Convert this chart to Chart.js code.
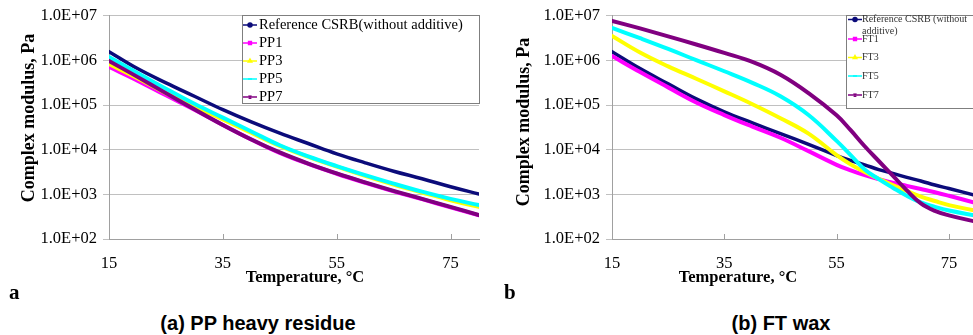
<!DOCTYPE html>
<html>
<head>
<meta charset="utf-8">
<script src="https://cdn.jsdelivr.net/npm/chart.js@4.4.1/dist/chart.umd.min.js"></script>
<style>
  html, body { margin: 0; padding: 0; background: #fff; }
  body { position: relative; width: 973px; height: 335px; overflow: hidden; }
  canvas { position: absolute; top: 0; }
  #ppChart { left: 0; }
  #ftChart { left: 490px; }
  .txt { position: absolute; white-space: nowrap; color: #000; }
  .serif { font-family: 'Liberation Serif', 'Times New Roman', serif; font-weight: bold; }
  .ytitle { transform: translate(-50%, -50%) rotate(-90deg); }
  .xtitle { transform: translate(-50%, -50%); }
  .caption { font-family: 'Liberation Sans', Arial, sans-serif; font-weight: bold; font-size: 20px; transform: translate(-50%, -50%); }
  .letter { font-size: 21px; }
</style>
</head>
<body>
<canvas id="ppChart" width="490" height="290"></canvas>
<canvas id="ftChart" width="490" height="290"></canvas>

<div class="txt serif ytitle" style="left:28px; top:118px; font-size:18px;">Complex modulus, Pa</div>
<div class="txt serif xtitle" style="left:305px; top:277px; font-size:16.5px;">Temperature, °C</div>
<div class="txt serif ytitle" style="left:523px; top:122px; font-size:18px;">Complex modulus, Pa</div>
<div class="txt serif xtitle" style="left:738px; top:277px; font-size:16.5px;">Temperature, °C</div>
<div class="txt serif letter" style="left:9px; top:280px;">a</div>
<div class="txt serif letter" style="left:504px; top:280px;">b</div>
<div class="txt caption" style="left:258px; top:323px;">(a) PP heavy residue</div>
<div class="txt caption" style="left:781px; top:323px;">(b) FT wax</div>

<script>
// axes
const xTicks = [15, 35, 55, 75];
const yTicks = [1e2, 1e3, 1e4, 1e5, 1e6, 1e7];
const yTickLabels = ['1.0E+02', '1.0E+03', '1.0E+04', '1.0E+05', '1.0E+06', '1.0E+07'];

// (a) PP heavy residue, complex modulus in Pa
const ppTemps = [15, 20, 25, 30, 35, 40, 45, 50, 55, 60, 65, 70, 75, 80];
const ppNames = ['Reference CSRB(without additive)', 'PP1', 'PP3', 'PP5', 'PP7'];
const ppRef = [1.58e6, 6.6e5, 3.16e5, 1.58e5, 7.9e4, 4.2e4, 2.35e4, 1.38e4, 8.1e3, 5.1e3, 3.3e3, 2.24e3, 1.48e3, 1.02e3];
const pp1 = [7.2e5, 3.55e5, 1.66e5, 7.9e4, 3.6e4, 1.7e4, 8.5e3, 4.8e3, 2.9e3, 1.82e3, 1.17e3, 780, 510, 340];
const pp3 = [8.3e5, 4.0e5, 1.86e5, 9.3e4, 4.8e4, 2.4e4, 1.22e4, 6.9e3, 4.2e3, 2.6e3, 1.66e3, 1.1e3, 740, 525];
const pp5 = [1.2e6, 5.25e5, 2.34e5, 1.07e5, 5.25e4, 2.57e4, 1.26e4, 7.1e3, 4.3e3, 2.7e3, 1.74e3, 1.15e3, 795, 575];
const pp7 = [9.8e5, 4.3e5, 1.86e5, 8.1e4, 3.6e4, 1.7e4, 8.7e3, 4.9e3, 2.95e3, 1.86e3, 1.2e3, 795, 525, 345];

// (b) FT wax, complex modulus in Pa
const ftTemps = [15, 20, 25, 30, 35, 40, 45, 50, 55, 57.5, 60, 62.5, 65, 67.5, 70, 72.5, 75, 80];
const ftNames = ['Reference CSRB (without additive)', 'FT1', 'FT3', 'FT5', 'FT7'];
const ftRef = [1.58e6, 6.6e5, 3.0e5, 1.38e5, 7.1e4, 4.0e4, 2.3e4, 1.32e4, 7.4e3, 5.75e3, 4.6e3, 3.6e3, 2.95e3, 2.4e3, 2.0e3, 1.62e3, 1.35e3, 930];
const ft1 = [1.26e6, 5.5e5, 2.5e5, 1.15e5, 6.0e4, 3.3e4, 1.86e4, 9.3e3, 4.6e3, 3.45e3, 2.7e3, 2.2e3, 1.82e3, 1.55e3, 1.32e3, 1.12e3, 930, 630];
const ft3 = [3.55e6, 1.51e6, 7.4e5, 3.9e5, 2.04e5, 1.05e5, 5.1e4, 2.3e4, 7.6e3, 4.7e3, 3.16e3, 2.24e3, 1.62e3, 1.2e3, 890, 710, 575, 425];
const ft5 = [5.4e6, 3.16e6, 1.82e6, 1.02e6, 5.75e5, 3.16e5, 1.58e5, 6.0e4, 1.58e4, 7.6e3, 3.63e3, 2.19e3, 1.41e3, 930, 660, 525, 435, 330];
const ft7 = [7.76e6, 5.25e6, 3.47e6, 2.29e6, 1.48e6, 9.3e5, 4.8e5, 1.86e5, 5.9e4, 2.75e4, 1.2e4, 5.6e3, 2.63e3, 1.23e3, 630, 427, 339, 240];

const colors = ['#0b0b7a', '#ff00ff', '#ffff00', '#00ffff', '#800080'];
const markers = ['circle', 'rect', 'triangle', 'line', 'crossRot'];
const serif = "'Liberation Serif', 'Times New Roman', serif";

// legend box drawn inside the plot, like the Excel one
const legendBox = {
  id: 'legendBox',
  afterDraw(chart, args, opts) {
    const ctx = chart.ctx;
    ctx.save();
    ctx.fillStyle = '#fff';
    ctx.fillRect(opts.x, opts.y, opts.w, opts.h);
    ctx.strokeStyle = '#7f7f7f';
    ctx.lineWidth = 1;
    ctx.strokeRect(opts.x + 0.5, opts.y + 0.5, opts.w, opts.h);
    ctx.font = opts.font;
    ctx.textBaseline = 'middle';
    chart.data.datasets.forEach((ds, i) => {
      const y = opts.rows[i];
      ctx.strokeStyle = ds.borderColor;
      ctx.fillStyle = ds.borderColor;
      ctx.lineWidth = 1.5;
      ctx.beginPath();
      ctx.moveTo(opts.sampleX, y);
      ctx.lineTo(opts.sampleX + opts.sampleW, y);
      ctx.stroke();
      Chart.helpers.drawPoint(ctx, { pointStyle: ds.pointStyle, radius: 2, rotation: 0, borderWidth: 1 }, opts.sampleX + opts.sampleW / 2, y);
      // simple word wrap
      const words = ds.label.split(' ');
      const lines = [];
      let line = '';
      words.forEach(w => {
        const test = line ? line + ' ' + w : w;
        if (opts.wrap && ctx.measureText(test).width > opts.wrap && line) {
          lines.push(line);
          line = w;
        } else {
          line = test;
        }
      });
      lines.push(line);
      ctx.fillStyle = opts.color;
      lines.forEach((l, k) => ctx.fillText(l, opts.textX, y + k * opts.lineGap));
    });
    ctx.restore();
  }
};

// small tick marks pointing into the plot on the x axis
const innerTicks = {
  id: 'innerTicks',
  afterDraw(chart) {
    const ctx = chart.ctx;
    const xs = chart.scales.x;
    const bottom = chart.chartArea.bottom;
    ctx.save();
    ctx.strokeStyle = '#a0a0a0';
    ctx.lineWidth = 1;
    xs.ticks.forEach((t, i) => {
      if (i === 0) return;
      const px = Math.round(xs.getPixelForValue(t.value)) + 0.5;
      ctx.beginPath();
      ctx.moveTo(px, bottom);
      ctx.lineTo(px, bottom - 5);
      ctx.stroke();
    });
    ctx.restore();
  }
};

const buildDatasets = (temps, names, series) => {
  return series.map((values, i) => ({
    label: names[i],
    data: values.map((v, k) => ({ x: temps[k], y: v })),
    borderColor: colors[i],
    backgroundColor: colors[i],
    borderWidth: i === 0 ? 3.5 : 4,
    pointStyle: markers[i],
    order: series.length - i
  }));
};

const buildOptions = (yWidth, padRight, legendOpts) => ({
  responsive: false,
  animation: false,
  layout: { padding: { left: 0, top: 15, right: padRight, bottom: 0 } },
  elements: {
    point: { radius: 0 },
    line: { tension: 0.4, fill: false, borderCapStyle: 'round', borderJoinStyle: 'round' }
  },
  plugins: {
    legend: { display: false },
    tooltip: { enabled: false },
    legendBox: legendOpts
  },
  scales: {
    x: {
      type: 'linear',
      min: 15,
      max: 80,
      afterBuildTicks: s => { s.ticks = xTicks.map(v => ({ value: v })); },
      afterFit: s => { s.height = 51; },
      grid: { display: false },
      border: { color: '#a0a0a0' },
      ticks: { font: { family: serif, size: 16.5 }, color: '#000', padding: 7 }
    },
    y: {
      type: 'logarithmic',
      min: 1e2,
      max: 1e7,
      afterBuildTicks: s => { s.ticks = yTicks.map(v => ({ value: v })); },
      afterFit: s => { s.width = yWidth; },
      grid: { color: '#c0c0c0', tickLength: 6 },
      border: { color: '#a0a0a0' },
      ticks: {
        font: { family: serif, size: 16.5 },
        color: '#000',
        padding: 6,
        callback: (v, i) => yTickLabels[i]
      }
    }
  }
});

new Chart(document.getElementById('ppChart'), {
  type: 'line',
  data: { datasets: buildDatasets(ppTemps, ppNames, [ppRef, pp1, pp3, pp5, pp7]) },
  options: buildOptions(109, 11, {
    x: 242, y: 15, w: 237, h: 88,
    rows: [25, 43, 61, 79, 97],
    font: "14.5px " + serif, color: '#000',
    sampleX: 243, sampleW: 14, textX: 259, wrap: 0, lineGap: 0
  }),
  plugins: [legendBox, innerTicks]
});

new Chart(document.getElementById('ftChart'), {
  type: 'line',
  data: { datasets: buildDatasets(ftTemps, ftNames, [ftRef, ft1, ft3, ft5, ft7]) },
  options: buildOptions(122, 3, {
    x: 356, y: 15, w: 140, h: 93,
    rows: [19.5, 39, 57.5, 76, 95],
    font: "10px " + serif, color: '#333',
    sampleX: 358, sampleW: 14, textX: 372, wrap: 112, lineGap: 12
  }),
  plugins: [legendBox, innerTicks]
});
</script>
</body>
</html>
